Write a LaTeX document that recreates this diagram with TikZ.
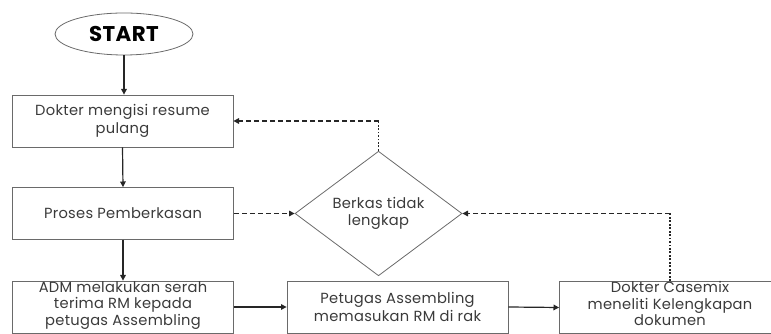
\documentclass[tikz,border=0pt]{standalone}
\usepackage{fontspec}
\setmainfont{Poppins}[LetterSpace=2]
\usetikzlibrary{shapes.geometric,arrows.meta}
\definecolor{txt}{HTML}{3A3A3A}
\definecolor{edge}{HTML}{6A6A6A}
\tikzset{
  box/.style={draw=edge, line width=0.6pt, rectangle, minimum width=165.75pt, minimum height=39pt, inner sep=0pt, align=center, text=txt, font=\fontsize{11}{13.2}\selectfont},
  flow/.style={draw=black!85, line width=0.9pt, -{Triangle[length=4.2pt,width=4.2pt]}},
  dsh/.style={draw=black!85, line width=0.9pt, dash pattern=on 3.5pt off 2.5pt},
  dot/.style={draw=black!85, line width=1.4pt, dash pattern=on 1.4pt off 1.2pt},
  tip/.style={-{Triangle[length=4.2pt,width=4.2pt]}}
}
\begin{document}
\begin{tikzpicture}[x=0.75pt,y=-0.75pt]
\useasboundingbox (0,0) rectangle (771,334);
\clip (0,0) rectangle (771,334);
\node[draw=edge, line width=0.6pt, ellipse, minimum width=103.5pt, minimum height=31.5pt, inner sep=0pt, font=\fontsize{16}{18}\bfseries\selectfont] (start) at (124,34) {START};
\node[box] (b1) at (122.5,121) {Dokter mengisi resume\\pulang};
\node[box] (b2) at (123,213.5) {Proses Pemberkasan};
\node[box] (b3) at (123,307) {\smash{\raisebox{-1.5pt}{\parbox{160pt}{\centering\fontsize{11}{12.4}\selectfont ADM melakukan serah\\terima RM kepada\\petugas Assembling}}}};
\node[box] (b4) at (397.5,307) {Petugas Assembling\\memasukan RM di rak};
\node[box] (b5) at (670,307.5) {\smash{\raisebox{0pt}{\parbox{160pt}{\centering\fontsize{11}{12.4}\selectfont Dokter Casemix\\meneliti Kelengkapan\\dokumen}}}};
\node[draw=edge, line width=0.6pt, diamond, minimum width=125.25pt, minimum height=66pt, inner sep=0pt, align=center, text=txt, font=\fontsize{11}{13.2}\selectfont] (dia) at (378.5,213.5) {Berkas tidak\\lengkap};
\draw[flow] (start.south) -- (start.south |- b1.north);
\draw[flow] (b1.south) -- (b2.north);
\draw[flow] (b2.south) -- (b3.north);
\draw[flow] (b3.east) -- (b4.west);
\draw[flow] (b4.east) -- (b5.west);
\coordinate (c1) at (dia.north |- b1.east);
\coordinate (c2) at (b5.north |- dia.east);
\draw[dot] (dia.north) -- (c1);
\draw[dsh,tip] (c1) -- (b1.east);
\draw[dsh,tip] (b2.east) -- (dia.west);
\draw[dot] (b5.north) -- (c2);
\draw[dsh,tip] (c2) -- (dia.east);
\end{tikzpicture}
\end{document}
